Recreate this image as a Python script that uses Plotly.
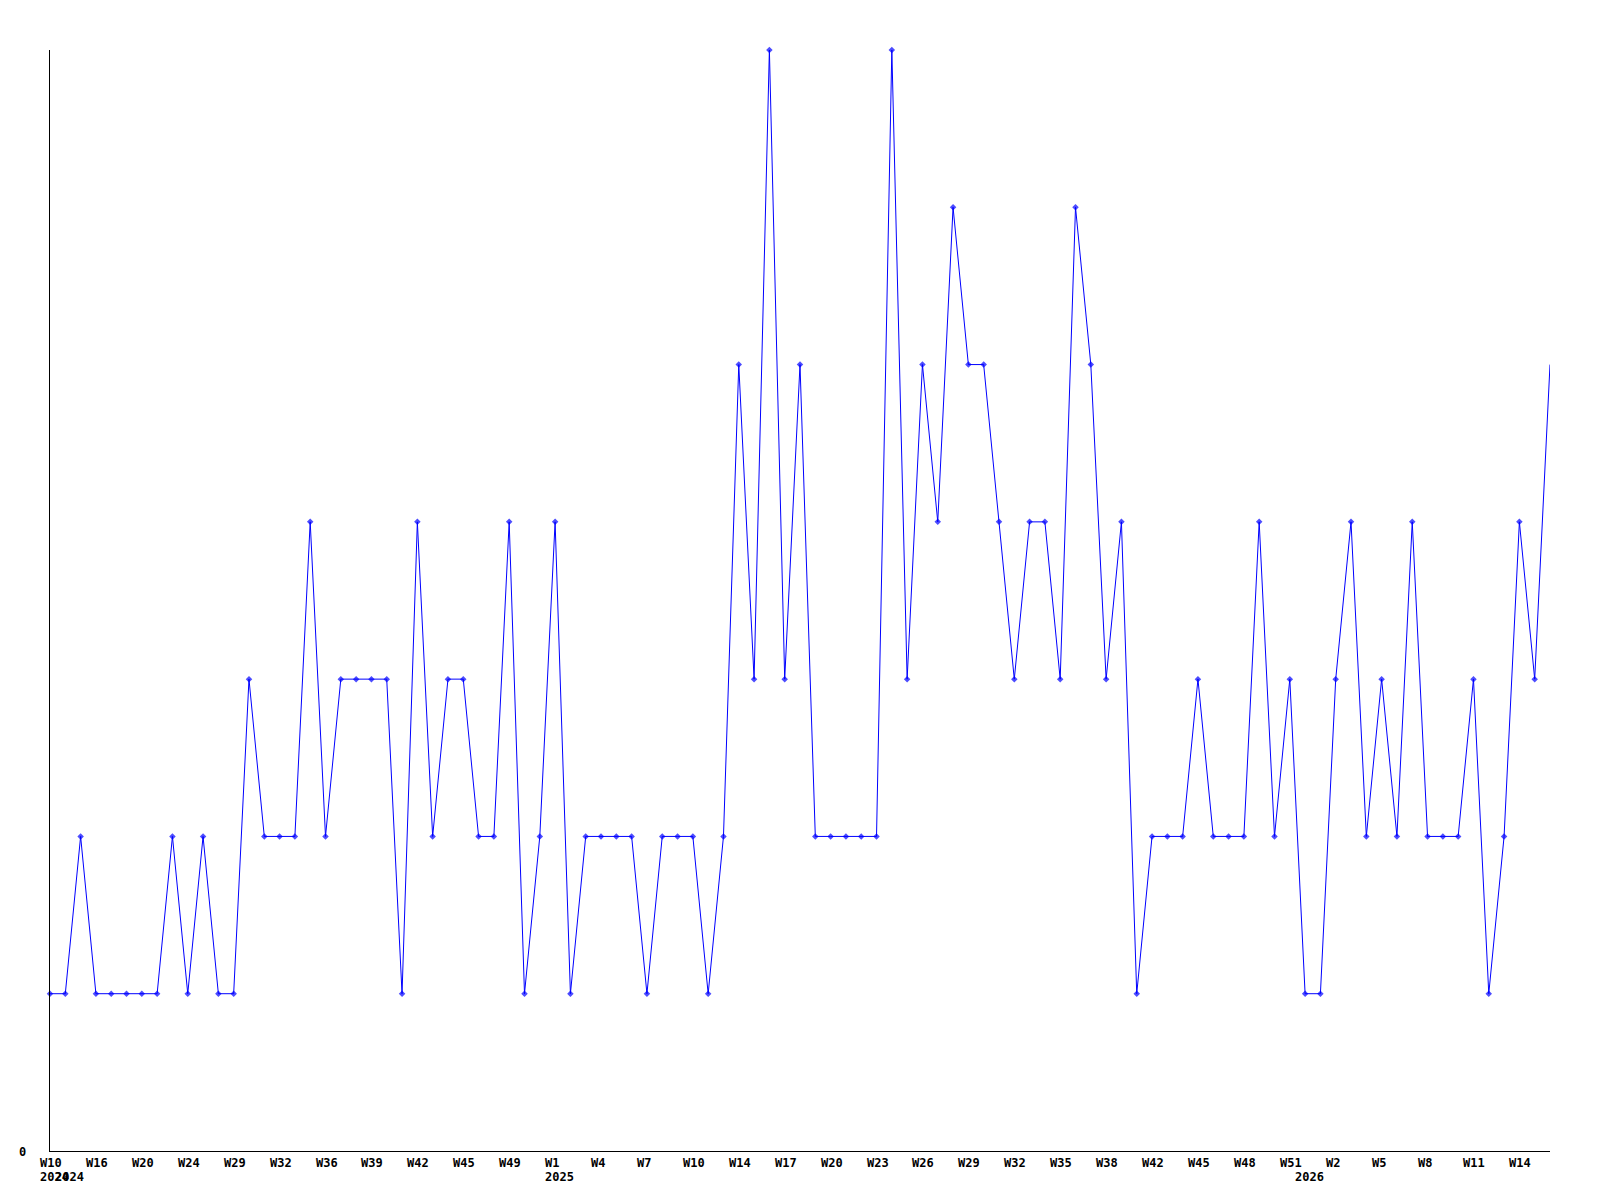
import plotly.graph_objects as go

# Values per data point (weeks with data)
values = [1, 1, 2, 1, 1, 1, 1, 1, 2, 1,
          2, 1, 1, 3, 2, 2, 2, 4, 2, 3,
          3, 3, 3, 1, 4, 2, 3, 3, 2, 2,
          4, 1, 2, 4, 1, 2, 2, 2, 2, 1,
          2, 2, 2, 1, 2, 5, 3, 7, 3, 5,
          2, 2, 2, 2, 2, 7, 3, 5, 4, 6,
          5, 5, 4, 3, 4, 4, 3, 6, 5, 3,
          4, 1, 2, 2, 2, 3, 2, 2, 2, 4,
          2, 3, 1, 1, 3, 4, 2, 3, 2, 4,
          2, 2, 2, 3, 1, 2, 4, 3, 5]

# Tick labels, shown on every third data point
tick_labels = ["W10", "W16", "W20", "W24", "W29", "W32", "W36", "W39", "W42", "W45", "W49",
               "W1", "W4", "W7", "W10", "W14", "W17", "W20", "W23", "W26", "W29", "W32",
               "W35", "W38", "W42", "W45", "W48", "W51", "W2", "W5", "W8", "W11", "W14"]
tick_step = 3

# Year labels: (data point index, label)
year_positions = [0, 1, 33, 82]
year_labels = ["2024", "2024", "2025", "2026"]

n = len(values)
xs = list(range(n))
marker_sizes = [5] * (n - 1) + [0]

fig = go.Figure()
fig.add_trace(go.Scatter(
    x=xs, y=values, mode="lines+markers",
    line=dict(color="#0000ff", width=1),
    marker=dict(symbol="diamond", size=marker_sizes, color="#0000ff", line=dict(width=0)),
    cliponaxis=False, showlegend=False, hoverinfo="skip",
))

label_font = dict(family="DejaVu Sans Mono", size=12, color="#000000", weight="bold")
annotations = []
for i, lab in enumerate(tick_labels):
    annotations.append(dict(
        x=i * tick_step, xref="x", y=0, yref="paper", text=lab, showarrow=False,
        xanchor="left", yanchor="middle", xshift=-12, yshift=-12, font=label_font,
    ))
for pos, lab in zip(year_positions, year_labels):
    annotations.append(dict(
        x=pos, xref="x", y=0, yref="paper", text=lab, showarrow=False,
        xanchor="left", yanchor="middle", xshift=-12, yshift=-26, font=label_font,
    ))
annotations.append(dict(
    x=0, xref="paper", y=0, yref="y", text="0", showarrow=False,
    xanchor="center", yanchor="middle", xshift=-28, yshift=-1, font=label_font,
))

# The page body has an 8px margin, so the figure is sized/margined to compensate
fig.update_layout(
    width=1584, height=1184,
    margin=dict(l=42, r=42, t=42, b=41),
    paper_bgcolor="#ffffff", plot_bgcolor="#ffffff",
    xaxis=dict(range=[0, n - 1], showgrid=False, zeroline=False, showticklabels=False,
               ticks="", showline=True, linecolor="#000000", linewidth=1, fixedrange=True),
    yaxis=dict(range=[0, 7], showgrid=False, zeroline=False, showticklabels=False,
               ticks="", showline=True, linecolor="#000000", linewidth=1, fixedrange=True),
    annotations=annotations,
)

fig.write_html("out.html", config={"displayModeBar": False})
